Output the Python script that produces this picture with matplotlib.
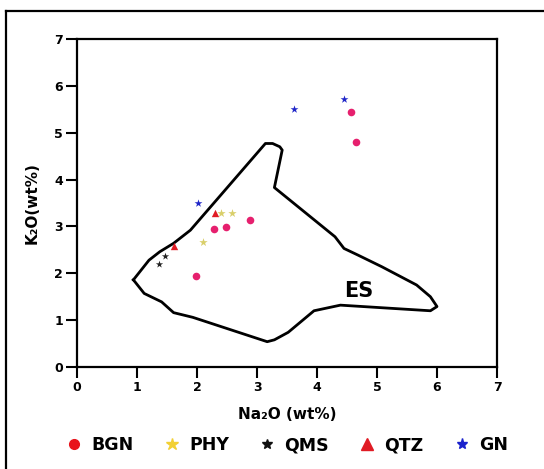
import matplotlib
matplotlib.use("Agg")
import matplotlib.pyplot as plt
from matplotlib.lines import Line2D

plt.rcParams['font.family'] = ['DejaVu Sans']
plt.rcParams['font.weight'] = 'bold'

# ---- data ----
bgn_x = [1.99, 2.28, 2.48, 2.88, 4.56, 4.65]
bgn_y = [1.95, 2.94, 2.99, 3.14, 5.44, 4.80]
phy_x = [2.10, 2.40, 2.59]
phy_y = [2.67, 3.29, 3.28]
qms_x = [1.37, 1.47]
qms_y = [2.20, 2.36]
qtz_x = [1.62, 2.30]
qtz_y = [2.58, 3.28]
gn_x = [2.02, 3.62, 4.45]
gn_y = [3.51, 5.51, 5.72]

es_x = [0.94, 1.12, 1.41, 1.61, 1.93, 3.17, 3.29, 3.52, 3.95, 4.39, 5.89, 6.00,
        5.89, 5.66, 5.08, 4.68, 4.45, 4.30, 3.29, 3.42, 3.38, 3.26, 3.14, 1.89,
        1.61, 1.38, 1.20, 0.94]
es_y = [1.86, 1.57, 1.39, 1.16, 1.06, 0.54, 0.58, 0.74, 1.20, 1.32, 1.20, 1.29,
        1.50, 1.75, 2.14, 2.39, 2.53, 2.78, 3.83, 4.63, 4.70, 4.77, 4.77, 2.92,
        2.64, 2.46, 2.28, 1.86]

ticks = [0, 1, 2, 3, 4, 5, 6, 7]
labels = ['BGN', 'PHY', 'QMS', 'QTZ', 'GN']

# ---- figure ----
fig = plt.figure(figsize=(5.44, 4.69), dpi=100)
ax = fig.add_axes([77/544, 1-367/469, 420/544, 328/469])

ax.plot(es_x, es_y, color='black', lw=2.0, solid_joinstyle='round', zorder=2)
ax.text(4.7, 1.63, 'ES', fontsize=15, fontweight='bold', ha='center', va='center')

ax.scatter(bgn_x, bgn_y, s=30, marker='o', color='#e6206e', zorder=3, linewidths=0)
ax.scatter(phy_x, phy_y, s=40, marker='*', color='#d9cf6a', zorder=3, linewidths=0)
ax.scatter(qms_x, qms_y, s=30, marker='*', color='#222222', zorder=3, linewidths=0)
ax.scatter(qtz_x, qtz_y, s=28, marker='^', color='#e01b24', zorder=3, linewidths=0)
ax.scatter(gn_x, gn_y, s=35, marker='*', color='#1f26c8', zorder=3, linewidths=0)

ax.set_xlim(0, 7)
ax.set_ylim(0, 7)
ax.set_xticks(ticks)
ax.set_yticks(ticks)
ax.tick_params(direction='out', length=8, width=1.5, labelsize=9, pad=2)
for sp in ax.spines.values():
    sp.set_linewidth(1.6)

ax.set_xlabel('Na₂O (wt%)', fontsize=11, fontweight='bold')
ax.set_ylabel('K₂O(wt%)', fontsize=11, fontweight='bold')
ax.xaxis.set_label_coords(0.5, -0.122)
ax.yaxis.set_label_coords(-0.088, 0.5)

handles = [
    Line2D([], [], ls='none', marker='o', color='#e8141c', markersize=7),
    Line2D([], [], ls='none', marker='*', color='#f2d034', markersize=9),
    Line2D([], [], ls='none', marker='*', color='#111111', markersize=7),
    Line2D([], [], ls='none', marker='^', color='#e01b24', markersize=8),
    Line2D([], [], ls='none', marker='*', color='#1a22cc', markersize=8),
]
fig.legend(handles, labels, loc='center', bbox_to_anchor=(0.527, 1-445/469),
           ncol=5, frameon=False, handletextpad=0.5,
           columnspacing=1.7, handlelength=1.0,
           prop={'weight': 'bold', 'size': 12.5})

# outer frame (left and top edges)
fig.add_artist(Line2D([6/544, 6/544], [-0.05, 1-11/469], color='black', lw=1.6,
                      transform=fig.transFigure))
fig.add_artist(Line2D([6/544, 1.05], [1-11/469, 1-11/469], color='black', lw=1.6,
                      transform=fig.transFigure))

fig.savefig('out.png', dpi=100)
